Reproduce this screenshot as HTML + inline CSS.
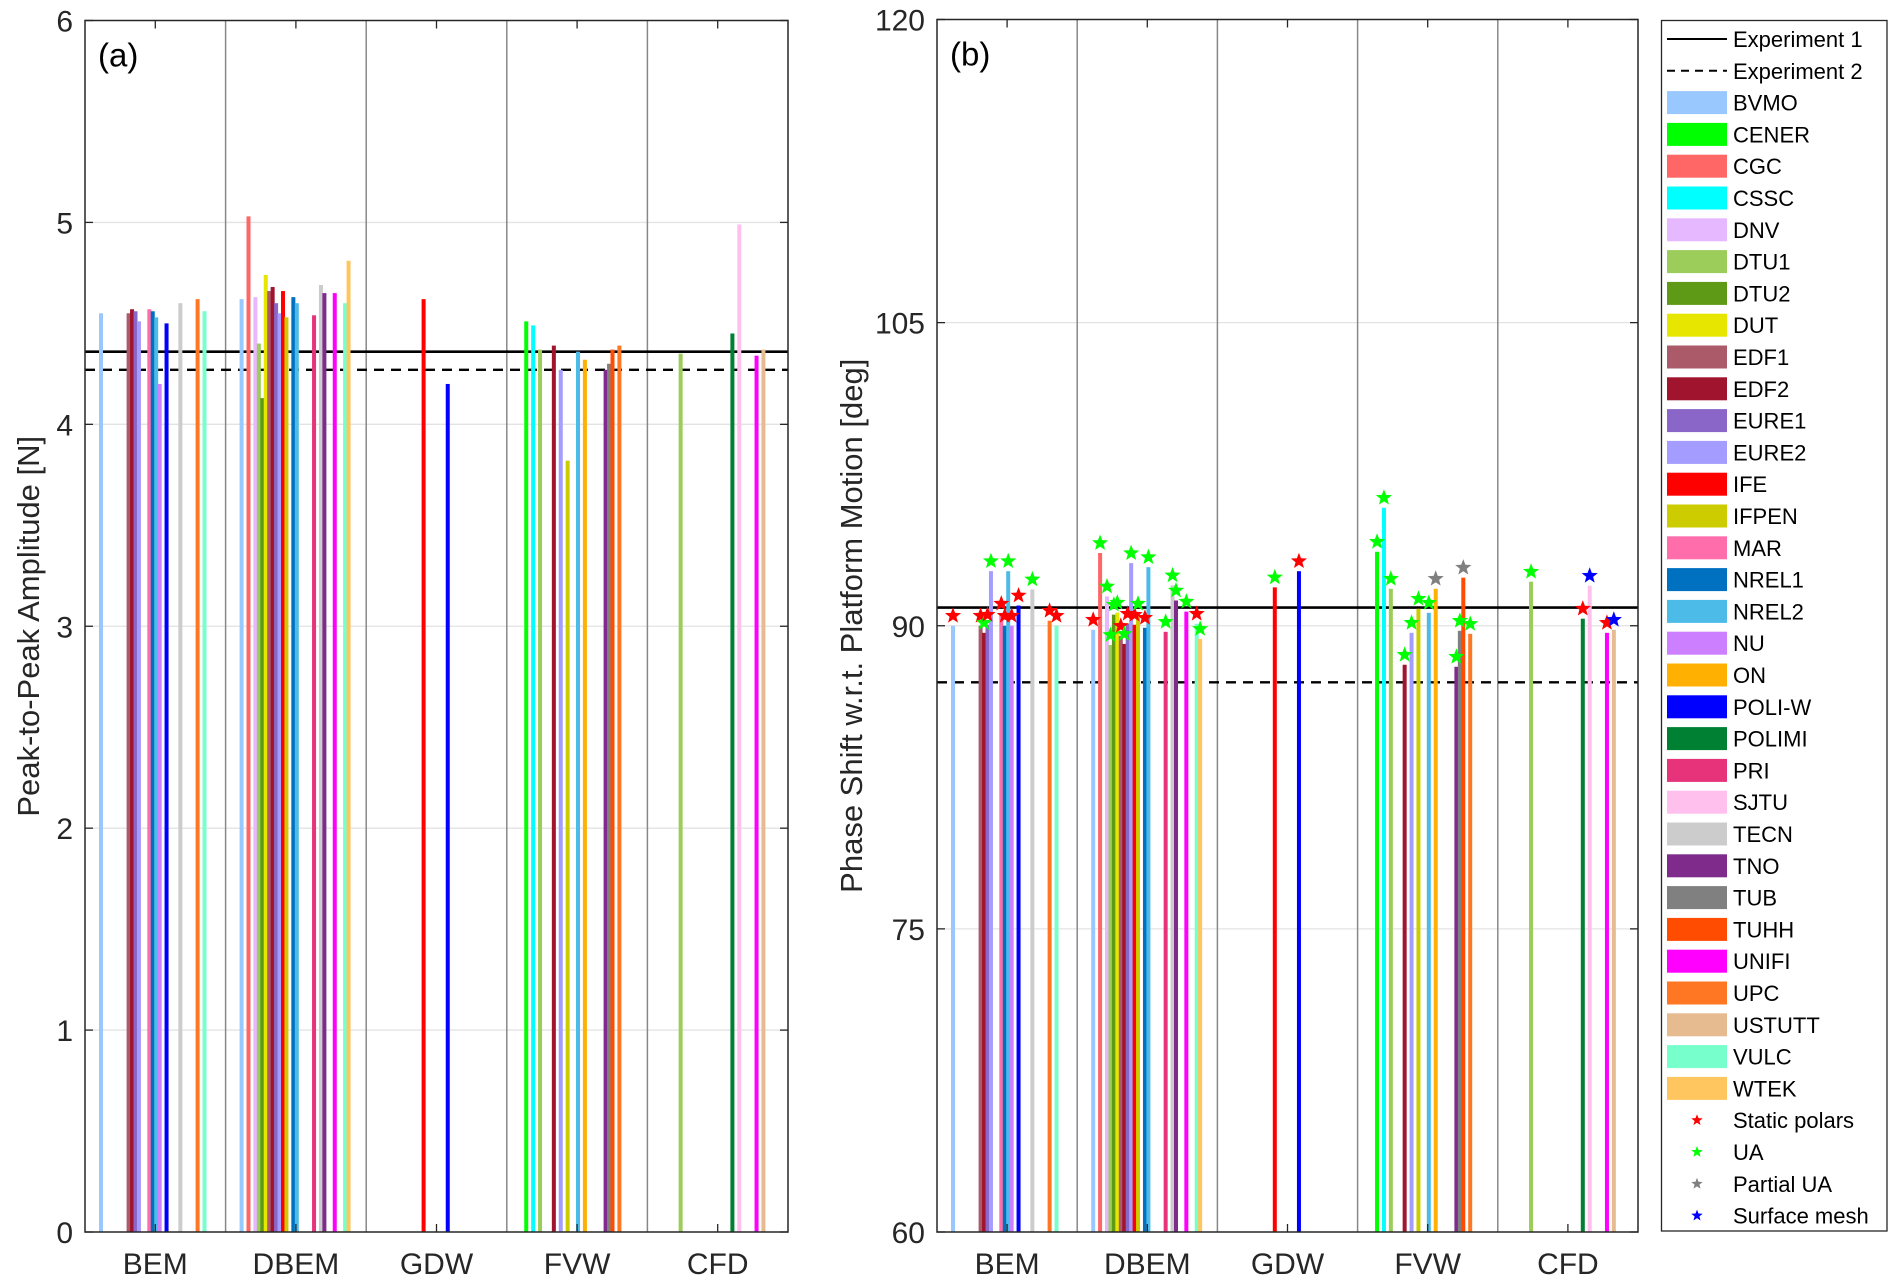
<!DOCTYPE html>
<html><head><meta charset="utf-8">
<style>
html,body{margin:0;padding:0;background:#fff;}
svg{display:block;font-family:"Liberation Sans",Arial,sans-serif;}
</style></head>
<body>
<svg id="fig" width="1903" height="1288" viewBox="0 0 1903 1288" xmlns="http://www.w3.org/2000/svg"></svg>
<script>
const modelNames = ["BVMO","CENER","CGC","CSSC","DNV","DTU1","DTU2","DUT","EDF1","EDF2","EURE1","EURE2","IFE","IFPEN","MAR","NREL1","NREL2","NU","ON","POLI-W","POLIMI","PRI","SJTU","TECN","TNO","TUB","TUHH","UNIFI","UPC","USTUTT","VULC","WTEK"];
const modelColors = ["#99c8ff","#00ff00","#ff6666","#00ffff","#e6b8ff","#9ccc5a","#5e9a16","#e6e600","#ab5a6a","#a0142e","#8a66c8","#a49cff","#ff0000","#cccc00","#ff6eaa","#0070c0","#4dbbe8","#cc80ff","#ffb000","#0000ff","#008033","#e6337a","#ffc0ee","#cccccc","#7e2b8c","#808080","#ff4c00","#ff00ff","#ff7722","#e6bb90","#77ffcc","#ffc660"];
const categories = ["BEM","DBEM","GDW","FVW","CFD"];
const ampTicks = [0,1,2,3,4,5,6];
const phaseTicks = [60,75,90,105,120];
const ampExperiment = [4.36, 4.27];
const phaseExperiment = [90.9, 87.2];

// (a) Peak-to-peak amplitude
const ampModelsBEM = ["BVMO","EDF1","EDF2","EURE1","EURE2","MAR","NREL1","NREL2","NU","POLI-W","TECN","UPC","VULC"];
const ampValuesBEM = [4.55,4.55,4.57,4.56,4.51,4.57,4.56,4.53,4.20,4.50,4.60,4.62,4.56];
const ampModelsDBEM = ["BVMO","CGC","DNV","DTU1","DTU2","DUT","EDF1","EDF2","EURE1","EURE2","IFE","IFPEN","NREL1","NREL2","PRI","TECN","TNO","UNIFI","VULC","WTEK"];
const ampValuesDBEM = [4.62,5.03,4.63,4.40,4.13,4.74,4.66,4.68,4.60,4.55,4.66,4.53,4.63,4.60,4.54,4.69,4.65,4.65,4.60,4.81];
const ampModelsGDW = ["IFE","POLI-W"];
const ampValuesGDW = [4.62,4.20];
const ampModelsFVW = ["CENER","CSSC","DTU1","EDF2","EURE2","IFPEN","NREL2","ON","TNO","TUB","TUHH","UPC"];
const ampValuesFVW = [4.51,4.49,4.37,4.39,4.27,3.82,4.36,4.32,4.27,4.30,4.37,4.39];
const ampModelsCFD = ["DTU1","POLIMI","SJTU","UNIFI","USTUTT"];
const ampValuesCFD = [4.35,4.45,4.99,4.34,4.37];

// (b) Phase shift
const phaseModelsBEM = ["BVMO","EDF1","EDF2","EURE1","EURE2","MAR","NREL1","NREL2","NU","POLI-W","TECN","UPC","VULC"];
const phaseValuesBEM = [90.0,90.0,89.65,90.05,92.7,90.6,90.0,92.7,90.0,91.0,91.8,90.25,90.0];
const phaseStarsBEM = ["S","S","U","S","U","S","S","U","S","S","U","S","S"];
const phaseModelsDBEM = ["BVMO","CGC","DNV","DTU1","DTU2","DUT","EDF1","EDF2","EURE1","EURE2","IFE","IFPEN","NREL1","NREL2","PRI","TECN","TNO","UNIFI","VULC","WTEK"];
const phaseValuesDBEM = [89.8,93.6,91.45,89.05,90.55,90.65,89.5,89.1,90.1,93.1,90.05,90.6,89.9,92.9,89.7,92.0,91.25,90.7,90.1,89.35];
const phaseStarsDBEM = ["S","U","U","U","U","U","S","U","S","U","S","U","S","U","U","U","U","U","S","U"];
const phaseModelsGDW = ["IFE","POLI-W"];
const phaseValuesGDW = [91.9,92.7];
const phaseStarsGDW = ["U","S"];
const phaseModelsFVW = ["CENER","CSSC","DTU1","EDF2","EURE2","IFPEN","NREL2","ON","TNO","TUB","TUHH","UPC"];
const phaseValuesFVW = [93.66,95.84,91.83,88.07,89.65,90.84,90.64,91.83,87.97,89.75,92.38,89.6];
const phaseStarsFVW = ["U","U","U","U","U","U","U","P","U","U","P","U"];
const phaseModelsCFD = ["DTU1","POLIMI","SJTU","UNIFI","USTUTT"];
const phaseValuesCFD = [92.18,90.35,91.98,89.65,89.8];
const phaseStarsCFD = ["U","S","M","S","M"];

const starTypes = ["S","U","P","M"];
const starLabels = ["Static polars","UA","Partial UA","Surface mesh"];
const starColors = ["#ff0000","#00ff00","#808080","#0000ff"];

const NS = "http://www.w3.org/2000/svg";
const svg = document.getElementById("fig");
function mk(tag, attrs, parent){
  const e = document.createElementNS(NS, tag);
  for (const k in attrs) e.setAttribute(k, attrs[k]);
  (parent||svg).appendChild(e);
  return e;
}
function starPath(cx, cy, R){
  const r = R*0.42; let d = "";
  for (let i=0;i<10;i++){
    const a = -Math.PI/2 + i*Math.PI/5;
    const rr = (i%2===0)?R:r;
    d += (i?"L":"M") + (cx+rr*Math.cos(a)).toFixed(2) + "," + (cy+rr*Math.sin(a)).toFixed(2);
  }
  return d+"Z";
}

function drawPanel(cfg){
  const {left,right,top,bottom,ymin,ymax,ticks,name,label,ytitle,ytitleX,exp,groups} = cfg;
  const g = mk("g",{});
  
  
  const y = v => bottom - (v-ymin)/(ymax-ymin)*(bottom-top);
  const catW = (right-left)/categories.length;
  const xBar = (ci, mi) => left + ci*catW + 16 + mi*3.45;
  ticks.forEach(t=>{
    if (t===ymin||t===ymax) return;
    const gl = mk("line",{x1:left,x2:right,y1:y(t),y2:y(t),stroke:"#e3e3e3","stroke-width":1.3},g);
    
    
  });
  for (let i=1;i<categories.length;i++){
    const s = mk("line",{x1:left+i*catW,x2:left+i*catW,y1:top,y2:bottom,stroke:"#888","stroke-width":1.5},g);
    
    
  }
  const e1 = mk("line",{x1:left,x2:right,y1:y(exp[0]),y2:y(exp[0]),stroke:"#000","stroke-width":2.6},g);
  
  
  const e2 = mk("line",{x1:left,x2:right,y1:y(exp[1]),y2:y(exp[1]),stroke:"#000","stroke-width":2.4,"stroke-dasharray":"10 7"},g);
  
  
  groups.forEach((gr,ci)=>{
    gr.models.forEach((m,k)=>{
      const mi = modelNames.indexOf(m);
      const x = xBar(ci, mi);
      const yt = y(gr.values[k]);
      const b = mk("rect",{x:x-2,y:yt,width:4,height:bottom-yt,fill:modelColors[mi]},g);
      
      
    });
  });
  groups.forEach((gr,ci)=>{
    if (!gr.stars) return;
    gr.models.forEach((m,k)=>{
      const mi = modelNames.indexOf(m);
      const x = xBar(ci, mi);
      const yt = y(gr.values[k]);
      const si = starTypes.indexOf(gr.stars[k]);
      const st = mk("path",{d:starPath(x, yt-10, 8.5), fill:starColors[si]},g);
      
      
    });
  });
  const box = mk("rect",{x:left,y:top,width:right-left,height:bottom-top,fill:"none",stroke:"#262626","stroke-width":1.5},g);
  
  
  ticks.forEach(t=>{
    mk("line",{x1:left,x2:left+8,y1:y(t),y2:y(t),stroke:"#262626","stroke-width":1.3},g);
    mk("line",{x1:right-8,x2:right,y1:y(t),y2:y(t),stroke:"#262626","stroke-width":1.3},g);
    const tl = mk("text",{x:left-12,y:y(t)+11,"text-anchor":"end","font-size":30,fill:"#262626"},g);
    tl.textContent = t;
    
    
  });
  categories.forEach((c,ci)=>{
    const cx = left + (ci+0.5)*catW;
    mk("line",{x1:cx,x2:cx,y1:bottom,y2:bottom-8,stroke:"#262626","stroke-width":1.3},g);
    mk("line",{x1:cx,x2:cx,y1:top,y2:top+8,stroke:"#262626","stroke-width":1.3},g);
    const xl = mk("text",{x:cx,y:1274,"text-anchor":"middle","font-size":30,fill:"#262626"},g);
    xl.textContent = c;
    
    
  });
  const pl = mk("text",{x:left+13,y:top+46,"font-size":33,fill:"#000"},g);
  pl.textContent = label;
  
  
  const yt = mk("text",{x:ytitleX,y:(top+bottom)/2,"text-anchor":"middle","font-size":31,fill:"#262626",transform:`rotate(-90 ${ytitleX} ${(top+bottom)/2})`},g);
  yt.textContent = ytitle;
  
  
}

drawPanel({left:85,right:788,top:20.5,bottom:1232,ymin:0,ymax:6,ticks:ampTicks,name:"amplitude-chart",label:"(a)",
  ytitle:"Peak-to-Peak Amplitude [N]",ytitleX:39,exp:ampExperiment,
  groups:[{models:ampModelsBEM,values:ampValuesBEM},{models:ampModelsDBEM,values:ampValuesDBEM},{models:ampModelsGDW,values:ampValuesGDW},{models:ampModelsFVW,values:ampValuesFVW},{models:ampModelsCFD,values:ampValuesCFD}]});
drawPanel({left:937,right:1638,top:19.5,bottom:1232,ymin:60,ymax:120,ticks:phaseTicks,name:"phase-chart",label:"(b)",
  ytitle:"Phase Shift w.r.t. Platform Motion [deg]",ytitleX:862,exp:phaseExperiment,
  groups:[{models:phaseModelsBEM,values:phaseValuesBEM,stars:phaseStarsBEM},{models:phaseModelsDBEM,values:phaseValuesDBEM,stars:phaseStarsDBEM},{models:phaseModelsGDW,values:phaseValuesGDW,stars:phaseStarsGDW},{models:phaseModelsFVW,values:phaseValuesFVW,stars:phaseStarsFVW},{models:phaseModelsCFD,values:phaseValuesCFD,stars:phaseStarsCFD}]});

const lg = mk("g",{});


mk("rect",{x:1661.5,y:20.5,width:1887-1661.5,height:1231-20.5,fill:"#fff",stroke:"#262626","stroke-width":1.3},lg);
const rowY = i => 39 + i*31.8;
function legText(i, txt){
  const t = mk("text",{x:1733,y:rowY(i)+8,"font-size":22,fill:"#000"},lg);
  t.textContent = txt;
  return t;
}
mk("line",{x1:1667,x2:1727,y1:rowY(0),y2:rowY(0),stroke:"#000","stroke-width":2},lg);
let t = legText(0,"Experiment 1");


mk("line",{x1:1667,x2:1727,y1:rowY(1),y2:rowY(1),stroke:"#000","stroke-width":2,"stroke-dasharray":"8 6"},lg);
t = legText(1,"Experiment 2");


modelNames.forEach((m,i)=>{
  const r = rowY(i+2);
  mk("rect",{x:1667,y:r-11.5,width:60,height:23,fill:modelColors[i]},lg);
  const tx = legText(i+2,m);
  
  
});
starLabels.forEach((s,i)=>{
  const r = rowY(i+34);
  mk("path",{d:starPath(1697,r,6),fill:starColors[i]},lg);
  const tx = legText(i+34,s);
  
  
});
</script>
</body></html>
